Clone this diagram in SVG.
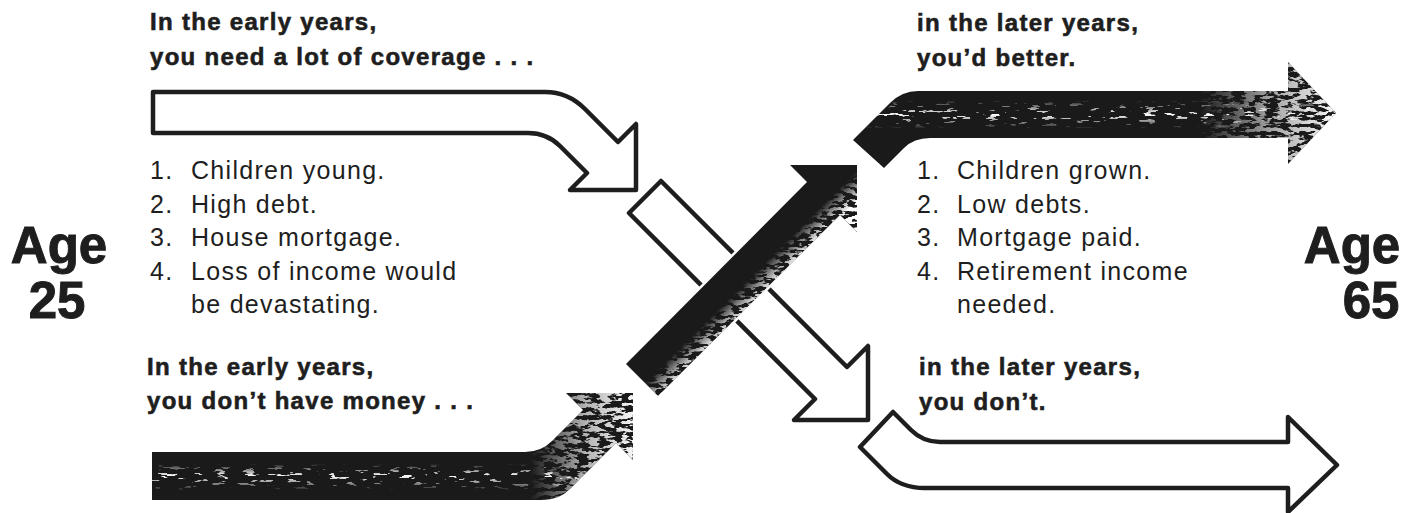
<svg xmlns="http://www.w3.org/2000/svg" width="1416" height="513" viewBox="0 0 1416 513">
<style>
.hd{font-family:"Liberation Sans",Arial,Helvetica,sans-serif;font-weight:bold;font-size:24px;fill:#1e1e1e;stroke:#1e1e1e;stroke-width:0.6px;letter-spacing:1.3px}
.li{font-family:"Liberation Sans",Arial,Helvetica,sans-serif;font-size:25px;fill:#1e1e1e;letter-spacing:1.3px}
.age{font-family:"Liberation Sans",Arial,Helvetica,sans-serif;font-weight:bold;font-size:51px;fill:#1e1e1e;stroke:#1e1e1e;stroke-width:1px;text-anchor:middle}
.wa{fill:#fff;stroke:#1e1e1e;stroke-width:4.5;stroke-linejoin:round}
.ba{fill:#1a1a1a;stroke:#fff;stroke-width:5;paint-order:stroke}
</style>
<defs>
<filter id="spk" filterUnits="userSpaceOnUse" x="0" y="0" width="1416" height="513">
<feTurbulence type="fractalNoise" baseFrequency="0.07 0.3" numOctaves="3" seed="11"/>
<feColorMatrix type="matrix" values="0 0 0 0 1 0 0 0 0 1 0 0 0 0 1 22 0 0 0 -14"/>
</filter>
<filter id="spkD" filterUnits="userSpaceOnUse" x="0" y="0" width="1416" height="513">
<feTurbulence type="fractalNoise" baseFrequency="0.09 0.25" numOctaves="3" seed="5"/>
<feColorMatrix type="matrix" values="0 0 0 0 1 0 0 0 0 1 0 0 0 0 1 14 0 0 0 -6.6"/>
</filter>
<clipPath id="cBL"><path d="M152,452 L525,452 Q541,452 552,441 L583,410 L566,393 L633,393 L633,460 L616,443 L570,489 Q559,500 543,500 L152,500 Z"/></clipPath>
<clipPath id="cC"><path d="M626,364 L807,182 L790,165 L857,165 L857,232 L840,215 L658,396 Z"/></clipPath>
<clipPath id="cTR"><path d="M853,140 L890,103 Q902,91 918,91 L1288,91 L1288,62 L1336,113 L1288,164 L1288,138 L930,138 Q914,138 904,148 L884,168 Z"/></clipPath>
<linearGradient id="gBLv" gradientUnits="userSpaceOnUse" x1="0" y1="452" x2="0" y2="500">
<stop offset="0" stop-color="#000"/><stop offset="0.25" stop-color="#000"/><stop offset="0.5" stop-color="#fff"/><stop offset="0.8" stop-color="#000"/><stop offset="1" stop-color="#000"/>
</linearGradient>
<linearGradient id="gBLd" gradientUnits="userSpaceOnUse" x1="530" y1="0" x2="640" y2="0">
<stop offset="0" stop-color="#000"/><stop offset="0.5" stop-color="#aaa"/><stop offset="1" stop-color="#fff"/>
</linearGradient>
<linearGradient id="gC" gradientUnits="userSpaceOnUse" x1="701" y1="289" x2="735" y2="323">
<stop offset="0" stop-color="#000"/><stop offset="0.55" stop-color="#000"/><stop offset="1" stop-color="#fff"/>
</linearGradient>
<linearGradient id="gTRv" gradientUnits="userSpaceOnUse" x1="0" y1="91" x2="0" y2="138">
<stop offset="0" stop-color="#000"/><stop offset="0.2" stop-color="#000"/><stop offset="0.5" stop-color="#fff"/><stop offset="0.8" stop-color="#000"/><stop offset="1" stop-color="#000"/>
</linearGradient>
<linearGradient id="gTRd" gradientUnits="userSpaceOnUse" x1="1200" y1="0" x2="1340" y2="0">
<stop offset="0" stop-color="#000"/><stop offset="0.5" stop-color="#999"/><stop offset="1" stop-color="#fff"/>
</linearGradient>
<mask id="mBL" maskUnits="userSpaceOnUse" x="0" y="0" width="1416" height="513"><rect width="1416" height="513" fill="url(#gBLv)"/></mask>
<mask id="mBLd" maskUnits="userSpaceOnUse" x="0" y="0" width="1416" height="513"><rect width="1416" height="513" fill="url(#gBLd)"/></mask>
<mask id="mC" maskUnits="userSpaceOnUse" x="0" y="0" width="1416" height="513"><rect width="1416" height="513" fill="url(#gC)"/></mask>
<mask id="mTR" maskUnits="userSpaceOnUse" x="0" y="0" width="1416" height="513"><rect width="1416" height="513" fill="url(#gTRv)"/></mask>
<mask id="mTRd" maskUnits="userSpaceOnUse" x="0" y="0" width="1416" height="513"><rect width="1416" height="513" fill="url(#gTRd)"/></mask>
</defs>
<rect width="1416" height="513" fill="#fff"/>

<g id="connectors">
<g id="arrow-coverage-early">
<path class="wa" d="M153,92 L545,92 Q568,92 585,109 L618,142 L636,124 L636,190 L570,190 L587,173 L560,146 Q547,133 528,133 L153,133 Z"/>
</g>
<g id="arrow-coverage-cross">
<path class="wa" d="M629,213 L661,181 L847,367 L868,346 L868,420 L794,420 L815,399 Z"/>
</g>
<g id="arrow-coverage-late">
<path class="wa" d="M893,412 L911,430 Q923,442 940,442 L1288,442 L1288,417 L1337,465 L1288,512 L1288,488 L925,488 Q901,488 887,474 L860,447 Z"/>
</g>
<g id="arrow-money-early">
<path class="ba" d="M152,452 L525,452 Q541,452 552,441 L583,410 L566,393 L633,393 L633,460 L616,443 L570,489 Q559,500 543,500 L152,500 Z"/>
<g clip-path="url(#cBL)"><rect width="1416" height="513" filter="url(#spk)" mask="url(#mBL)"/><rect width="1416" height="513" filter="url(#spkD)" mask="url(#mBLd)"/></g>
</g>
<g id="arrow-money-cross">
<path class="ba" d="M626,364 L807,182 L790,165 L857,165 L857,232 L840,215 L658,396 Z"/>
<g clip-path="url(#cC)"><rect width="1416" height="513" filter="url(#spkD)" mask="url(#mC)"/></g>
</g>
<g id="arrow-money-late">
<path class="ba" d="M853,140 L890,103 Q902,91 918,91 L1288,91 L1288,62 L1336,113 L1288,164 L1288,138 L930,138 Q914,138 904,148 L884,168 Z"/>
<g clip-path="url(#cTR)"><rect width="1416" height="513" filter="url(#spk)" mask="url(#mTR)"/><rect width="1416" height="513" filter="url(#spkD)" mask="url(#mTRd)"/></g>
</g>
</g>

<g id="age-25">
<text class="age" x="59" y="263">Age</text>
<text class="age" x="57" y="318">25</text>
</g>
<g id="age-65">
<text class="age" x="1352" y="263">Age</text>
<text class="age" x="1371" y="318">65</text>
</g>

<g id="label-early-coverage">
<text class="hd" x="150" y="30">In the early years,</text>
<text class="hd" x="150" y="65">you need a lot of coverage . . .</text>
</g>
<g id="list-early">
<text class="li" y="179"><tspan x="150">1.</tspan><tspan x="191">Children young.</tspan></text>
<text class="li" y="212.5"><tspan x="150">2.</tspan><tspan x="191">High debt.</tspan></text>
<text class="li" y="246"><tspan x="150">3.</tspan><tspan x="191">House mortgage.</tspan></text>
<text class="li" y="279.5"><tspan x="150">4.</tspan><tspan x="191">Loss of income would</tspan></text>
<text class="li" x="191" y="313">be devastating.</text>
</g>
<g id="label-early-money">
<text class="hd" x="147" y="375">In the early years,</text>
<text class="hd" x="147" y="409">you don’t have money . . .</text>
</g>
<g id="label-late-better">
<text class="hd" x="917" y="31">in the later years,</text>
<text class="hd" x="917" y="66">you’d better.</text>
</g>
<g id="list-late">
<text class="li" y="179"><tspan x="917">1.</tspan><tspan x="957">Children grown.</tspan></text>
<text class="li" y="212.5"><tspan x="917">2.</tspan><tspan x="957">Low debts.</tspan></text>
<text class="li" y="246"><tspan x="917">3.</tspan><tspan x="957">Mortgage paid.</tspan></text>
<text class="li" y="279.5"><tspan x="917">4.</tspan><tspan x="957">Retirement income</tspan></text>
<text class="li" x="957" y="313">needed.</text>
</g>
<g id="label-late-dont">
<text class="hd" x="919" y="375">in the later years,</text>
<text class="hd" x="919" y="410">you don’t.</text>
</g>
</svg>
